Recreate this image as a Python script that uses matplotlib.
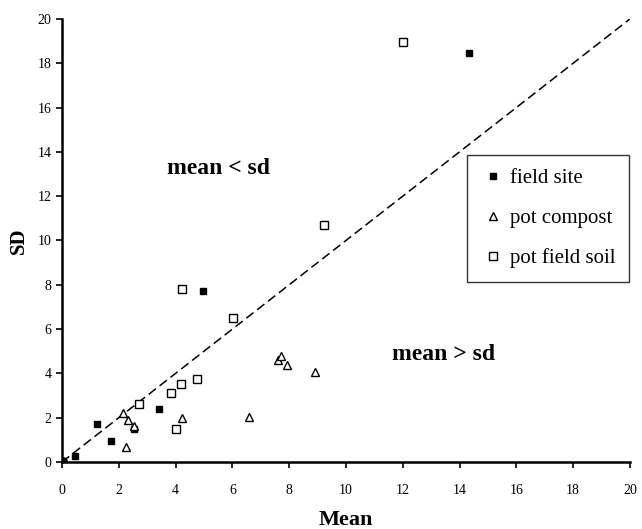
import matplotlib
matplotlib.use("Agg")
import matplotlib.pyplot as plt

plt.rcParams['font.family'] = ['Liberation Serif', 'DejaVu Serif']

field_x = [0.0, 0.45, 1.23, 1.73, 2.55, 3.42, 4.96, 14.33]
field_y = [0.0, 0.28, 1.72, 0.95, 1.50, 2.39, 7.70, 18.46]

compost_x = [0.0, 2.15, 2.32, 2.25, 2.55, 4.22, 6.58, 7.62, 7.72, 7.92, 8.90]
compost_y = [0.0, 2.21, 1.90, 0.68, 1.62, 1.99, 2.03, 4.62, 4.78, 4.38, 4.06]

soil_x = [0.0, 2.72, 3.84, 4.19, 4.75, 4.01, 4.23, 6.02, 9.22, 12.0]
soil_y = [0.0, 2.62, 3.12, 3.52, 3.75, 1.49, 7.81, 6.50, 10.70, 18.96]

ticks = list(range(0, 21, 2))

fig = plt.figure(figsize=(6.42, 5.29), dpi=100)
ax = fig.add_axes([0.0966, 0.1267, 0.8845, 0.8374])

ax.plot([0, 20], [0, 20], linestyle=(0, (6, 3)), color='black', linewidth=1.1, zorder=1)

ax.plot(field_x, field_y, linestyle='none', marker='s', markersize=5,
        markerfacecolor='black', markeredgecolor='black', label='field site', zorder=3)
ax.plot(compost_x, compost_y, linestyle='none', marker='^', markersize=5.5,
        markerfacecolor='white', markeredgecolor='black', markeredgewidth=1.0,
        label='pot compost', zorder=3)
ax.plot(soil_x, soil_y, linestyle='none', marker='s', markersize=5.5,
        markerfacecolor='white', markeredgecolor='black', markeredgewidth=1.0,
        label='pot field soil', zorder=3)
ax.plot([0], [0], marker='o', markersize=7, color='black', linestyle='none', zorder=4)

ax.set_xlim(0, 20)
ax.set_ylim(0, 20)
ax.set_xticks(ticks)
ax.set_yticks(ticks)
ax.tick_params(direction='out', length=4, width=1.2, labelsize=10)
ax.tick_params(axis='x', pad=12)
for s in ['top', 'right']:
    ax.spines[s].set_visible(False)
for s in ['left', 'bottom']:
    ax.spines[s].set_linewidth(1.8)

ax.set_xlabel('Mean', fontsize=16, fontweight='bold', labelpad=9)
ax.set_ylabel('SD', fontsize=15, fontweight='bold', labelpad=6)

ax.text(5.5, 13.27, 'mean < sd', fontsize=17, fontweight='bold', ha='center', va='center')
ax.text(13.45, 4.83, 'mean > sd', fontsize=17, fontweight='bold', ha='center', va='center')

leg = ax.legend(loc='upper left', bbox_to_anchor=(0.713, 0.693), frameon=True, fancybox=False,
                edgecolor='black', fontsize=15, handlelength=1.2, handletextpad=0.2,
                labelspacing=0.98, borderpad=0.65, markerscale=1.0, borderaxespad=0)
leg.get_frame().set_linewidth(1.0)

fig.savefig('out.png', dpi=100, facecolor='white')
